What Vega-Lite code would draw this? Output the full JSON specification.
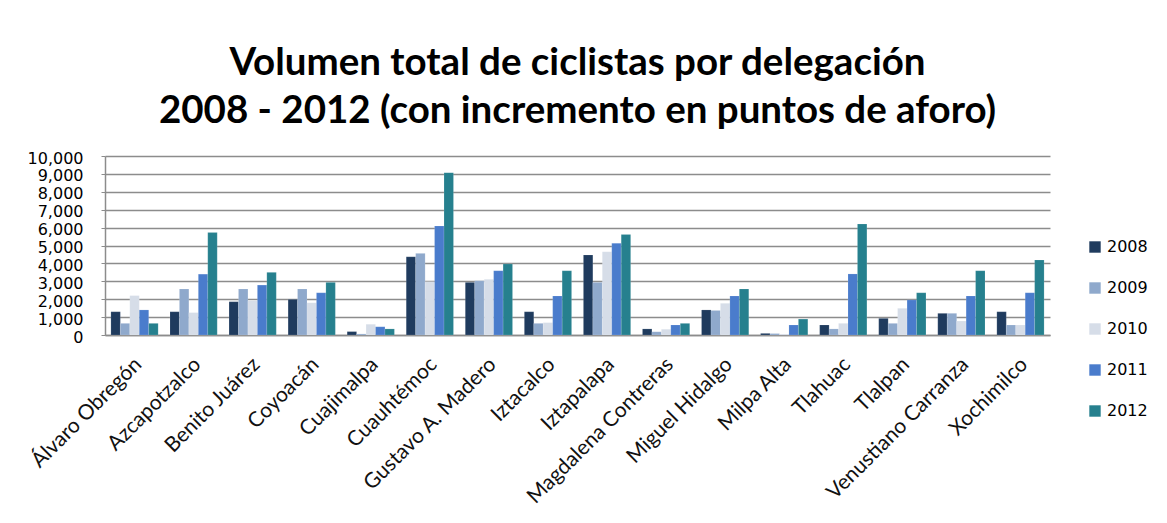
{
  "$schema": "https://vega.github.io/schema/vega-lite/v6.json",
  "autosize": {"type": "none"},
  "padding": {"left": 105, "top": 156, "right": 117, "bottom": 188},
  "width": 945,
  "height": 179,
  "background": "white",
  "title": {
    "text": ["Volumen total de ciclistas por delegación", "2008 - 2012 (con incremento en puntos de aforo)"],
    "font": "Lato",
    "fontSize": 38.5,
    "fontWeight": "bold",
    "lineHeight": 48,
    "anchor": "middle",
    "offset": 19,
    "color": "#000000"
  },
  "data": {
    "values": [
      {"delegacion": "Álvaro Obregón", "2008": 1300, "2009": 650, "2010": 2200, "2011": 1400, "2012": 650},
      {"delegacion": "Azcapotzalco", "2008": 1300, "2009": 2570, "2010": 1250, "2011": 3400, "2012": 5720},
      {"delegacion": "Benito Juárez", "2008": 1860, "2009": 2570, "2010": 1920, "2011": 2790, "2012": 3500},
      {"delegacion": "Coyoacán", "2008": 1990, "2009": 2570, "2010": 1800, "2011": 2360, "2012": 2940},
      {"delegacion": "Cuajimalpa", "2008": 190, "2009": 60, "2010": 600, "2011": 460, "2012": 340},
      {"delegacion": "Cuauhtémoc", "2008": 4370, "2009": 4560, "2010": 2980, "2011": 6090, "2012": 9070},
      {"delegacion": "Gustavo A. Madero", "2008": 2940, "2009": 3030, "2010": 3110, "2011": 3590, "2012": 3970},
      {"delegacion": "Iztacalco", "2008": 1300, "2009": 650, "2010": 690, "2011": 2180, "2012": 3590},
      {"delegacion": "Iztapalapa", "2008": 4470, "2009": 2940, "2010": 4650, "2011": 5120, "2012": 5620},
      {"delegacion": "Magdalena Contreras", "2008": 340, "2009": 180, "2010": 320, "2011": 560, "2012": 650},
      {"delegacion": "Miguel Hidalgo", "2008": 1400, "2009": 1370, "2010": 1770, "2011": 2180, "2012": 2570},
      {"delegacion": "Milpa Alta", "2008": 90, "2009": 80, "2010": 50, "2011": 560, "2012": 890},
      {"delegacion": "Tlahuac", "2008": 560, "2009": 340, "2010": 650, "2011": 3410, "2012": 6200},
      {"delegacion": "Tlalpan", "2008": 930, "2009": 650, "2010": 1490, "2011": 1960, "2012": 2360},
      {"delegacion": "Venustiano Carranza", "2008": 1210, "2009": 1210, "2010": 780, "2011": 2180, "2012": 3590},
      {"delegacion": "Xochimilco", "2008": 1300, "2009": 560, "2010": 560, "2011": 2360, "2012": 4190}
    ]
  },
  "transform": [
    {"fold": ["2008", "2009", "2010", "2011", "2012"], "as": ["anio", "valor"]}
  ],
  "mark": {"type": "bar", "stroke": "#ffffff", "strokeOpacity": 0.25, "strokeWidth": 0.5},
  "encoding": {
    "x": {
      "field": "delegacion",
      "type": "nominal",
      "sort": null,
      "scale": {"paddingInner": 0.2, "paddingOuter": 0.1},
      "axis": {
        "title": null,
        "labelAngle": -45,
        "labelAlign": "right",
        "labelBaseline": "middle",
        "labelFont": "Lato",
        "labelFontSize": 21,
        "labelColor": "#111111",
        "labelPadding": 26,
        "labelOffset": 4,
        "labelLimit": 400,
        "labelOverlap": false,
        "ticks": false,
        "domainColor": "#8c8c8c",
        "domainWidth": 1.5
      }
    },
    "xOffset": {"field": "anio", "type": "nominal"},
    "y": {
      "field": "valor",
      "type": "quantitative",
      "scale": {"domain": [0, 10000], "nice": false},
      "axis": {
        "title": null,
        "values": [0, 1000, 2000, 3000, 4000, 5000, 6000, 7000, 8000, 9000, 10000],
        "format": ",d",
        "labelFont": "DejaVu Sans",
        "labelFontSize": 16,
        "labelColor": "#000000",
        "labelPadding": 18,
        "labelOffset": 2,
        "labelOverlap": false,
        "tickSize": 4,
        "tickColor": "#8c8c8c",
        "domainColor": "#8c8c8c",
        "domainWidth": 1.5,
        "grid": true,
        "gridColor": "#8c8c8c",
        "gridWidth": 1.5
      }
    },
    "color": {
      "field": "anio",
      "type": "nominal",
      "scale": {
        "domain": ["2008", "2009", "2010", "2011", "2012"],
        "range": ["#1f3b5e", "#8fa9cc", "#d6dde8", "#4a7ccc", "#26808e"]
      },
      "legend": {
        "title": null,
        "orient": "none",
        "legendX": 982,
        "legendY": 83,
        "symbolType": "square",
        "symbolSize": 130,
        "symbolStrokeWidth": 0,
        "labelFont": "DejaVu Sans",
        "labelFontSize": 16,
        "labelColor": "#000000",
        "labelOffset": 4,
        "rowPadding": 25
      }
    }
  },
  "config": {
    "view": {"stroke": null}
  }
}
